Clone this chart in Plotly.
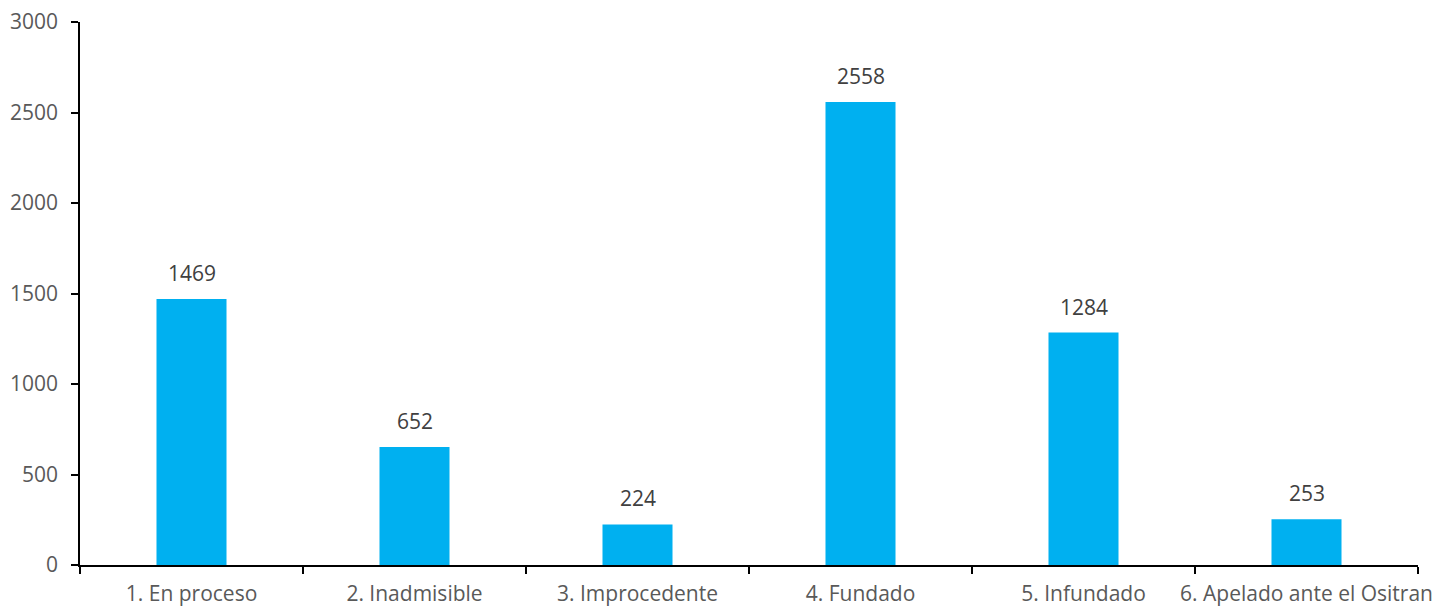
import plotly.graph_objects as go

categories = [
    '1. En proceso', '2. Inadmisible', '3. Improcedente',
    '4. Fundado', '5. Infundado', '6. Apelado ante el Ositran'
]
counts = [1469, 652, 224, 2558, 1284, 253]

font_family = "Open Sans"

fig = go.Figure()

fig.add_trace(go.Bar(
    x=categories,
    y=counts,
    marker=dict(color='#00B0F0', line=dict(width=0)),
    showlegend=False
))

# Value labels above each bar
for cat, val in zip(categories, counts):
    fig.add_annotation(
        x=cat, y=val, text=str(val),
        showarrow=False, yanchor='bottom', yshift=10,
        font=dict(family=font_family, size=21, color='#404040')
    )

fig.update_layout(
    width=1438,
    height=606,
    margin=dict(l=80, r=20, t=22, b=41),
    paper_bgcolor='white',
    plot_bgcolor='white',
    bargap=0.686,
    font=dict(family=font_family, size=21, color='#595959'),
)

fig.update_xaxes(
    showline=True, linecolor='black', linewidth=1.5,
    ticks='outside', tickson='boundaries', ticklen=7,
    tickcolor='black', tickwidth=1.5,
    showgrid=False, zeroline=False,
    tickangle=0, automargin=False,
    ticklabelstandoff=9,
)

fig.update_yaxes(
    range=[0, 3000], dtick=500,
    showline=True, linecolor='black', linewidth=1.5,
    ticks='outside', ticklen=7, tickcolor='black', tickwidth=1.5,
    showgrid=False, zeroline=False, automargin=False,
    ticklabelstandoff=9,
)

# remove the default page margin so the figure sits at the window's corner
fig.write_html(
    "out.html",
    config={'displayModeBar': False},
    post_script="document.body.style.margin='0';"
)
